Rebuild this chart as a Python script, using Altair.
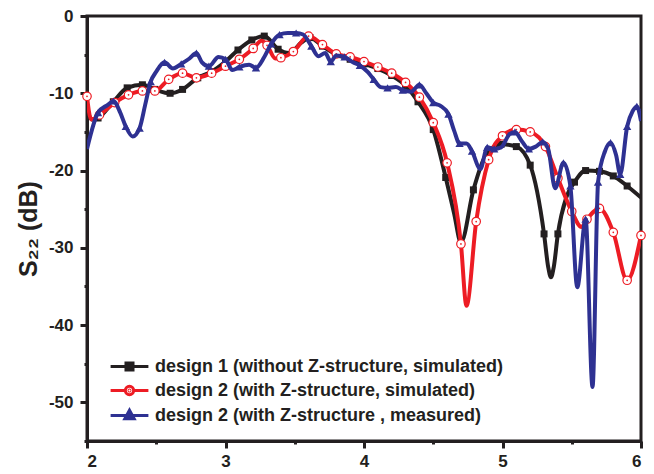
import altair as alt
import pandas as pd

# Legend labels for the three traces
SERIES = [
    "design 1 (without Z-structure, simulated)",
    "design 2 (with Z-structure, simulated)",
    "design 2 (with Z-structure , measured)",
]
COLORS = ["#231f20", "#ed1c24", "#2e3192"]

# design 1, simulated: frequency (GHz), S22 (dB), marker flag
d1_freq = [2.00, 2.04, 2.08, 2.19, 2.29, 2.40, 2.49, 2.60, 2.69, 2.80,
           2.90, 3.00, 3.09, 3.19, 3.28, 3.38, 3.46, 3.55, 3.61, 3.70,
           3.80, 3.90, 4.00, 4.10, 4.20, 4.30, 4.39, 4.50, 4.59, 4.65,
           4.70, 4.79, 4.88, 4.99, 5.10, 5.20, 5.30, 5.33, 5.35, 5.37,
           5.40, 5.46, 5.52, 5.60, 5.70, 5.80, 5.90, 6.00]
d1_s22 = [-12.3, -13.4, -13.2, -11.1, -9.3, -8.9, -9.5, -10.0, -9.5, -8.0,
          -7.2, -5.9, -4.4, -3.1, -2.6, -4.3, -4.8, -3.4, -2.8, -3.9,
          -5.0, -5.6, -6.2, -6.8, -7.7, -9.0, -11.1, -14.7, -20.9, -25.5,
          -29.3, -22.5, -18.0, -16.6, -16.9, -19.3, -28.2, -32.5, -33.8, -32.5,
          -28.2, -23.5, -21.5, -20.0, -20.1, -20.7, -22.0, -23.5]
d1_mark = [0, 0, 1, 1, 1, 1, 1, 1, 1, 1,
           1, 1, 1, 1, 1, 1, 0, 0, 1, 1,
           1, 1, 1, 1, 1, 1, 1, 1, 1, 0,
           0, 1, 0, 1, 1, 1, 1, 0, 0, 0,
           1, 0, 1, 1, 1, 1, 1, 0]

# design 2, simulated
d2_freq = [2.00, 2.03, 2.09, 2.20, 2.30, 2.40, 2.49, 2.59, 2.69, 2.79,
           2.90, 3.00, 3.10, 3.20, 3.26, 3.30, 3.36, 3.40, 3.49, 3.60,
           3.70, 3.80, 3.90, 4.00, 4.10, 4.20, 4.30, 4.40, 4.50, 4.60,
           4.70, 4.74, 4.81, 4.90, 5.00, 5.10, 5.20, 5.31, 5.40, 5.50,
           5.57, 5.61, 5.70, 5.80, 5.90, 6.00]
d2_s22 = [-10.4, -13.4, -12.8, -11.2, -10.2, -9.7, -9.7, -8.2, -7.4, -8.0,
          -7.4, -6.5, -5.6, -4.2, -3.2, -3.8, -5.5, -5.4, -4.6, -2.6,
          -3.7, -4.9, -5.3, -5.9, -6.6, -7.4, -8.6, -10.5, -13.8, -19.0,
          -29.5, -37.5, -26.6, -18.6, -15.5, -14.7, -15.0, -16.9, -21.0, -25.3,
          -27.3, -26.3, -24.9, -28.0, -34.2, -28.4]
d2_mark = [1, 0, 1, 1, 1, 1, 1, 1, 1, 1,
           1, 1, 1, 1, 0, 1, 0, 1, 1, 1,
           1, 1, 1, 1, 1, 1, 1, 1, 1, 1,
           1, 0, 1, 1, 1, 1, 1, 1, 1, 1,
           0, 1, 1, 1, 1, 1]

# design 2, measured
m2_freq = [2.00, 2.08, 2.15, 2.19, 2.24, 2.28, 2.33, 2.38, 2.42, 2.46,
           2.50, 2.56, 2.62, 2.68, 2.74, 2.79, 2.83, 2.88, 2.95, 3.00,
           3.05, 3.10, 3.17, 3.22, 3.28, 3.33, 3.39, 3.45, 3.51, 3.56,
           3.62, 3.67, 3.72, 3.76, 3.80, 3.86, 3.92, 3.97, 4.03, 4.07,
           4.12, 4.17, 4.23, 4.28, 4.34, 4.40, 4.45, 4.50, 4.55, 4.61,
           4.65, 4.69, 4.74, 4.78, 4.84, 4.89, 4.94, 4.99, 5.05, 5.09,
           5.14, 5.19, 5.24, 5.29, 5.33, 5.38, 5.44, 5.49, 5.54, 5.60,
           5.65, 5.69, 5.74, 5.78, 5.82, 5.85, 5.90, 5.94, 5.97, 6.00]
m2_s22 = [-17.2, -12.5, -11.5, -11.0, -12.5, -14.3, -15.6, -14.5, -11.5, -8.5,
          -7.2, -6.0, -6.8, -6.2, -5.5, -4.8, -6.0, -6.5, -5.3, -5.6,
          -7.0, -6.6, -6.3, -6.7, -5.3, -3.6, -2.4, -2.2, -2.2, -2.4,
          -3.9, -5.2, -4.8, -5.9, -5.1, -5.3, -6.0, -6.4, -7.3, -8.2,
          -9.2, -9.3, -9.2, -9.6, -9.8, -8.9, -10.0, -11.2, -11.6, -12.7,
          -14.8, -16.5, -16.5, -17.5, -19.8, -17.0, -17.2, -17.0, -15.3, -15.0,
          -16.2, -17.2, -16.9, -16.3, -17.2, -22.3, -19.0, -22.0, -35.1, -26.3,
          -48.0, -21.5, -17.5, -16.4, -18.0, -20.5, -14.3, -12.3, -11.7, -13.6]
m2_mark = [0, 1, 0, 1, 0, 1, 0, 1, 0, 1,
           0, 1, 0, 1, 0, 1, 0, 1, 0, 1,
           0, 1, 0, 1, 0, 1, 1, 0, 1, 0,
           1, 0, 0, 1, 0, 1, 0, 1, 0, 1,
           0, 1, 0, 1, 0, 1, 0, 1, 0, 1,
           0, 1, 0, 1, 0, 1, 1, 0, 0, 1,
           0, 1, 0, 1, 0, 0, 1, 1, 0, 1,
           0, 1, 0, 1, 0, 1, 1, 0, 1, 0]

X_TICKS = [2, 2.5, 3, 3.5, 4, 4.5, 5, 5.5, 6]
Y_TICKS = [0, -5, -10, -15, -20, -25, -30, -35, -40, -45, -50, -55]

# Legend glyphs: a short line with the series marker in the middle
LEGEND_SHAPES = [
    "M-2.1,0L2.1,0M-0.39,-0.39L0.39,-0.39L0.39,0.39L-0.39,0.39Z",
    "M-2.1,0L-0.48,0M0.48,0L2.1,0"
    "M-0.46,0A0.46,0.46,0,1,0,0.46,0A0.46,0.46,0,1,0,-0.46,0Z"
    "M-0.05,0A0.05,0.05,0,1,0,0.05,0A0.05,0.05,0,1,0,-0.05,0Z",
    "M-2.1,0L2.1,0M0,-0.6L0.52,0.35L-0.52,0.35Z",
]
LEGEND_FILLS = ["#231f20", "#ffffff", "#2e3192"]

INK = "#231f20"
FONT = "Liberation Sans"


def frame(freq, s22, mark):
    return pd.DataFrame({"f": freq, "s": s22, "m": mark})


x_enc = alt.X(
    "f:Q",
    scale=alt.Scale(domain=[2, 6], nice=False, zero=False),
    axis=alt.Axis(
        values=X_TICKS,
        labelExpr="datum.value % 1 === 0 ? '' + datum.value : ''",
        tickSize={"condition": {"test": "datum.value % 1 !== 0", "value": 3}, "value": 7},
        labelPadding=5,
        title=None,
    ),
)
y_enc = alt.Y(
    "s:Q",
    scale=alt.Scale(domain=[-55, 0], nice=False, zero=False),
    axis=alt.Axis(
        values=Y_TICKS,
        labelExpr="datum.value % 10 === 0 ? '' + datum.value : ''",
        tickSize={"condition": {"test": "datum.value % 10 !== 0", "value": 3}, "value": 7},
        labelPadding=7,
        title="S\u2082\u2082 (dB)",
    ),
)


def trace(df, color):
    return alt.Chart(df).mark_line(
        interpolate="monotone", strokeWidth=4, color=color, clip=True
    ).encode(x=x_enc, y=y_enc)


def markers(df, **mark_kw):
    return alt.Chart(df).transform_filter("datum.m == 1").mark_point(**mark_kw).encode(
        x=x_enc, y=y_enc
    )


df1 = frame(d1_freq, d1_s22, d1_mark)
df2 = frame(d2_freq, d2_s22, d2_mark)
df3 = frame(m2_freq, m2_s22, m2_mark)

layers = [
    trace(df1, COLORS[0]),
    markers(df1, shape="square", size=49, filled=True, color=COLORS[0], opacity=1),
    trace(df2, COLORS[1]),
    markers(df2, shape="circle", size=72, filled=True, fill="#ffffff",
            stroke=COLORS[1], strokeWidth=1.2, opacity=1),
    markers(df2, shape="circle", size=3, filled=True, color=COLORS[1], opacity=1),
    trace(df3, COLORS[2]),
    markers(df3, shape="triangle-up", size=70, filled=True, color=COLORS[2], opacity=1),
]

# Legend built from the scales of an empty point layer
legend_layer = (
    alt.Chart(pd.DataFrame({"series": SERIES}))
    .transform_filter("false")
    .mark_point(size=324, strokeWidth=3, opacity=1, filled=True)
    .encode(
        stroke=alt.Stroke(
            "series:N",
            scale=alt.Scale(domain=SERIES, range=COLORS),
            legend=alt.Legend(
                title=None,
                orient="none",
                legendX=32,
                legendY=340,
                symbolSize=324,
                symbolStrokeWidth=3,
                labelOffset=15,
                rowPadding=3,
                padding=0,
                labelFont=FONT,
                labelFontWeight="bold",
                labelFontSize=18,
                labelColor=INK,
                labelLimit=600,
            ),
        ),
        fill=alt.Fill(
            "series:N",
            scale=alt.Scale(domain=SERIES, range=LEGEND_FILLS),
            legend=alt.Legend(title=None),
        ),
        shape=alt.Shape(
            "series:N",
            scale=alt.Scale(domain=SERIES, range=LEGEND_SHAPES),
            legend=alt.Legend(title=None),
        ),
    )
)

chart = (
    alt.layer(*layers, legend_layer)
    .properties(
        width=554,
        height=425,
        autosize=alt.AutoSizeParams(type="none"),
        padding={"left": 87, "top": 16, "right": 13, "bottom": 33},
        background="white",
    )
    .configure_view(stroke=INK, strokeWidth=3)
    .configure_axis(
        grid=False,
        domainColor=INK,
        domainWidth=3,
        tickColor=INK,
        tickWidth=3,
        labelFont=FONT,
        labelFontWeight="bold",
        labelFontSize=17,
        labelColor=INK,
        titleFont=FONT,
        titleFontWeight="bold",
        titleFontSize=25,
        titleColor=INK,
        titlePadding=7,
    )
)

chart.save("out.html", embed_options={"renderer": "svg", "actions": False})
